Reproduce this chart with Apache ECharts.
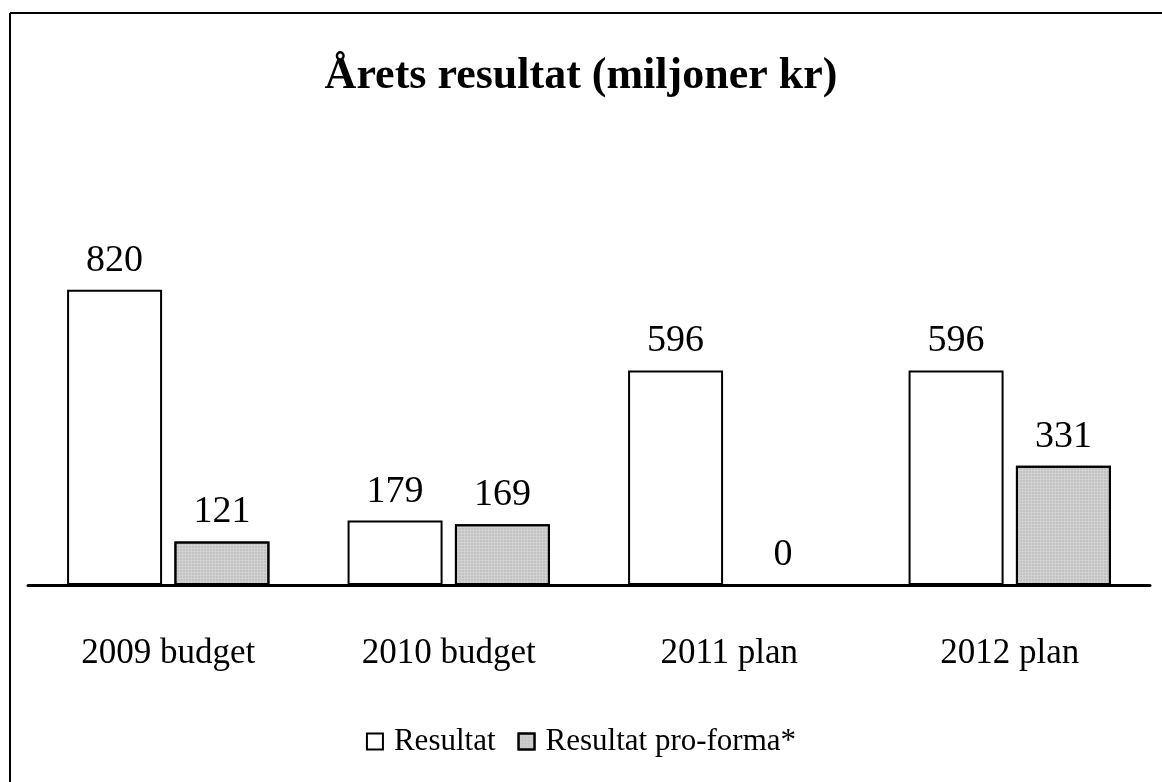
<!DOCTYPE html>
<html>
<head>
<meta charset="utf-8">
<script src="https://cdn.jsdelivr.net/npm/echarts@6/dist/echarts.min.js"></script>
<style>
html,body{margin:0;padding:0;background:#fff;}
#chart{width:1162px;height:782px;}
</style>
</head>
<body>
<div id="chart"></div>
<script>
const categories = ['2009 budget', '2010 budget', '2011 plan', '2012 plan'];
const resultat = [820, 179, 596, 596];
const proForma = [121, 169, 0, 331];
const seriesNames = ['Resultat', 'Resultat pro-forma*'];
const titleText = 'Årets resultat (miljoner kr)';

const FONT = '"Liberation Serif", "Times New Roman", serif';
const chart = echarts.init(document.getElementById('chart'), null, {renderer: 'canvas'});

const labelStyle = {
  show: true, position: 'top', distance: 10,
  fontFamily: FONT, fontSize: 38, color: '#000'
};

chart.setOption({
  backgroundColor: '#fff',
  animation: false,
  title: {
    text: titleText, left: 'center', top: 50,
    textStyle: {fontFamily: FONT, fontSize: 44, fontWeight: 'bold', color: '#000'}
  },
  legend: {
    bottom: 20, left: 'center',
    itemWidth: 16, itemHeight: 16, itemGap: 22,
    icon: 'rect',
    textStyle: {fontFamily: FONT, fontSize: 31, color: '#000', padding: [0, 0, 0, 6]},
    data: seriesNames
  },
  grid: {left: 28, right: 12, top: 225, bottom: 197},
  xAxis: {
    type: 'category', data: categories,
    axisLine: {lineStyle: {color: '#000', width: 3}},
    axisTick: {show: false},
    axisLabel: {fontFamily: FONT, fontSize: 35, color: '#000', margin: 51}
  },
  yAxis: {
    type: 'value', min: 0, max: 1000,
    show: false, splitLine: {show: false}
  },
  series: [
    {
      name: seriesNames[0], type: 'bar', data: resultat,
      barWidth: 95, barGap: '13%',
      itemStyle: {color: '#fff', borderColor: '#000', borderWidth: 2},
      label: labelStyle
    },
    {
      name: seriesNames[1], type: 'bar', data: proForma,
      barWidth: 95,
      itemStyle: {
        color: '#d2d2d2', borderColor: '#000', borderWidth: 2,
        decal: {symbol: 'rect', symbolSize: 0.5, dashArrayX: [2, 1], dashArrayY: [2, 1], color: 'rgba(90,90,90,0.5)'}
      },
      label: labelStyle
    }
  ],
  graphic: [
    {type: 'line', shape: {x1: 10, y1: 13, x2: 10, y2: 782}, style: {stroke: '#000', lineWidth: 2}},
    {type: 'line', shape: {x1: 10, y1: 13, x2: 1162, y2: 13}, style: {stroke: '#000', lineWidth: 2}}
  ]
});
</script>
</body>
</html>
